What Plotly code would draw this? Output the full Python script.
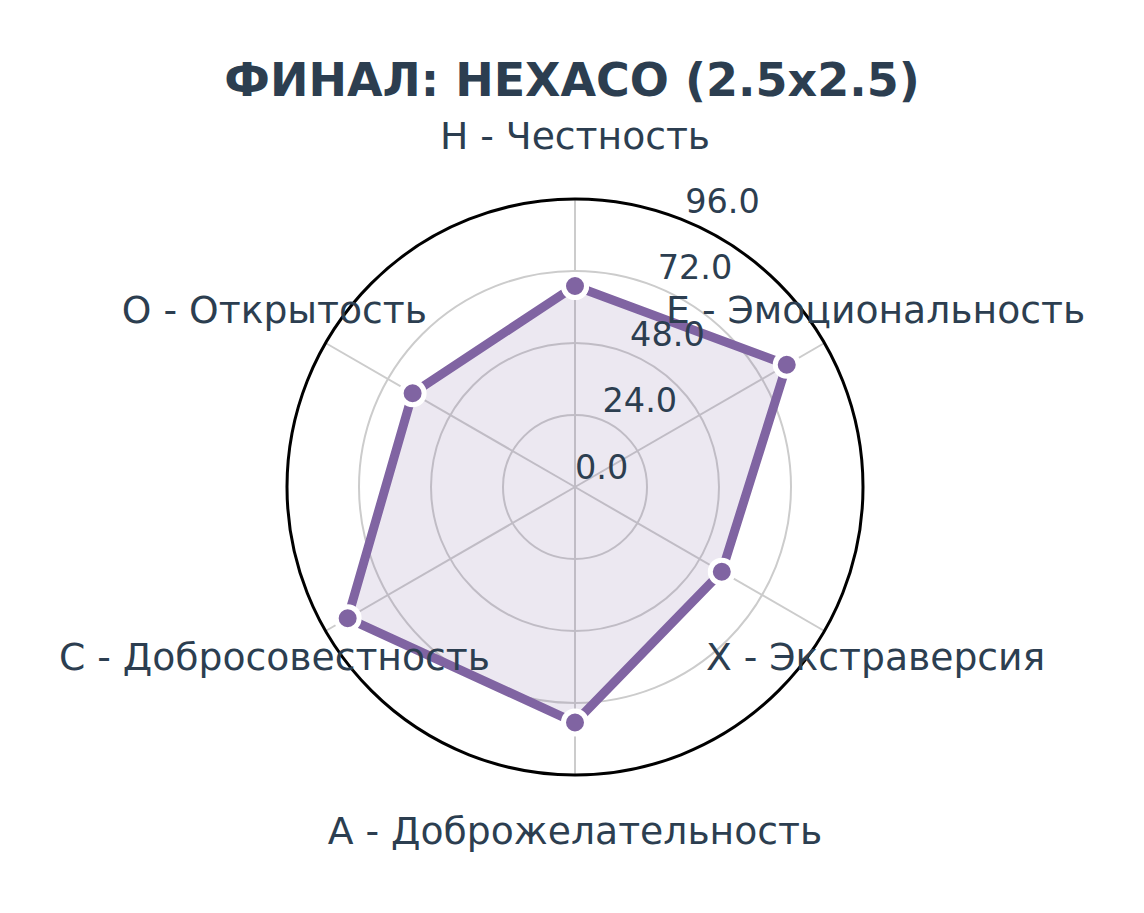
import plotly.graph_objects as go

categories = ["H - Честность", "E - Эмоциональность", "X - Экстраверсия",
              "A - Доброжелательность", "C - Добросовестность", "O - Открытость"]
values = [67, 81.5, 56.5, 78.5, 87.5, 62.5]
tick_vals = [0, 24, 48, 72, 96]
tick_text = ["0.0", "24.0", "48.0", "72.0", "96.0"]
label_r = [115.7] * len(categories)
tick_label_theta = [22.5] * len(tick_vals)

PURPLE = "#8064a2"
TEXT = "#2c3e50"
W, H = 1144, 913
CX, CY, R_IN, R_OUT = 575, 487, 288, 360


def dom(r):
    return dict(x=[(CX - r) / W, (CX + r) / W], y=[1 - (CY + r) / H, 1 - (CY - r) / H])


fig = go.Figure()
fig.add_trace(go.Scatterpolar(
    r=values + values[:1], theta=categories + categories[:1],
    mode="lines+markers", fill="toself", fillcolor="rgba(128,100,162,0.15)",
    line=dict(color=PURPLE, width=9),
    marker=dict(size=23, color=PURPLE, line=dict(color="white", width=5)),
    showlegend=False, hoverinfo="skip", subplot="polar"))
fig.add_trace(go.Scatterpolar(
    r=label_r, theta=categories, mode="text", text=categories,
    textposition="middle center",
    textfont=dict(family="DejaVu Sans", size=37.7, color=TEXT),
    showlegend=False, hoverinfo="skip", subplot="polar2"))
fig.add_trace(go.Scatterpolar(
    r=tick_vals, theta=tick_label_theta, mode="text", text=tick_text,
    textposition="top right", cliponaxis=False,
    textfont=dict(family="DejaVu Sans", size=33.5, color=TEXT),
    showlegend=False, hoverinfo="skip", subplot="polar3"))

fig.update_layout(
    width=W, height=H,
    paper_bgcolor="white",
    margin=dict(l=0, r=0, t=0, b=0),
    title=dict(text="<b>ФИНАЛ: HEXACO (2.5x2.5)</b>", x=0.5, xanchor="center",
               y=1 - 80 / H, yanchor="middle", yref="container",
               font=dict(family="DejaVu Sans", size=46, color=TEXT)),
    polar=dict(
        domain=dom(R_IN),
        bgcolor="white",
        radialaxis=dict(range=[0, 96], tickvals=tick_vals, showticklabels=False,
                        showline=False, ticks="",
                        gridcolor="#cccccc", gridwidth=2),
        angularaxis=dict(direction="clockwise", rotation=90, showticklabels=False,
                         ticks="", linecolor="black", linewidth=3,
                         gridcolor="#cccccc", gridwidth=2),
    ),
    polar2=dict(
        domain=dom(R_OUT),
        bgcolor="rgba(0,0,0,0)",
        radialaxis=dict(range=[0, 120], visible=False, showgrid=False),
        angularaxis=dict(direction="clockwise", rotation=90, categoryarray=categories,
                         showticklabels=False, ticks="", showline=False,
                         showgrid=False),
    ),
    polar3=dict(
        domain=dom(R_IN),
        bgcolor="rgba(0,0,0,0)",
        radialaxis=dict(range=[0, 96], visible=False, showgrid=False),
        angularaxis=dict(direction="clockwise", rotation=90, thetaunit="degrees",
                         showticklabels=False, ticks="", showline=False,
                         showgrid=False),
    ),
)
fig.write_html("out.html")
